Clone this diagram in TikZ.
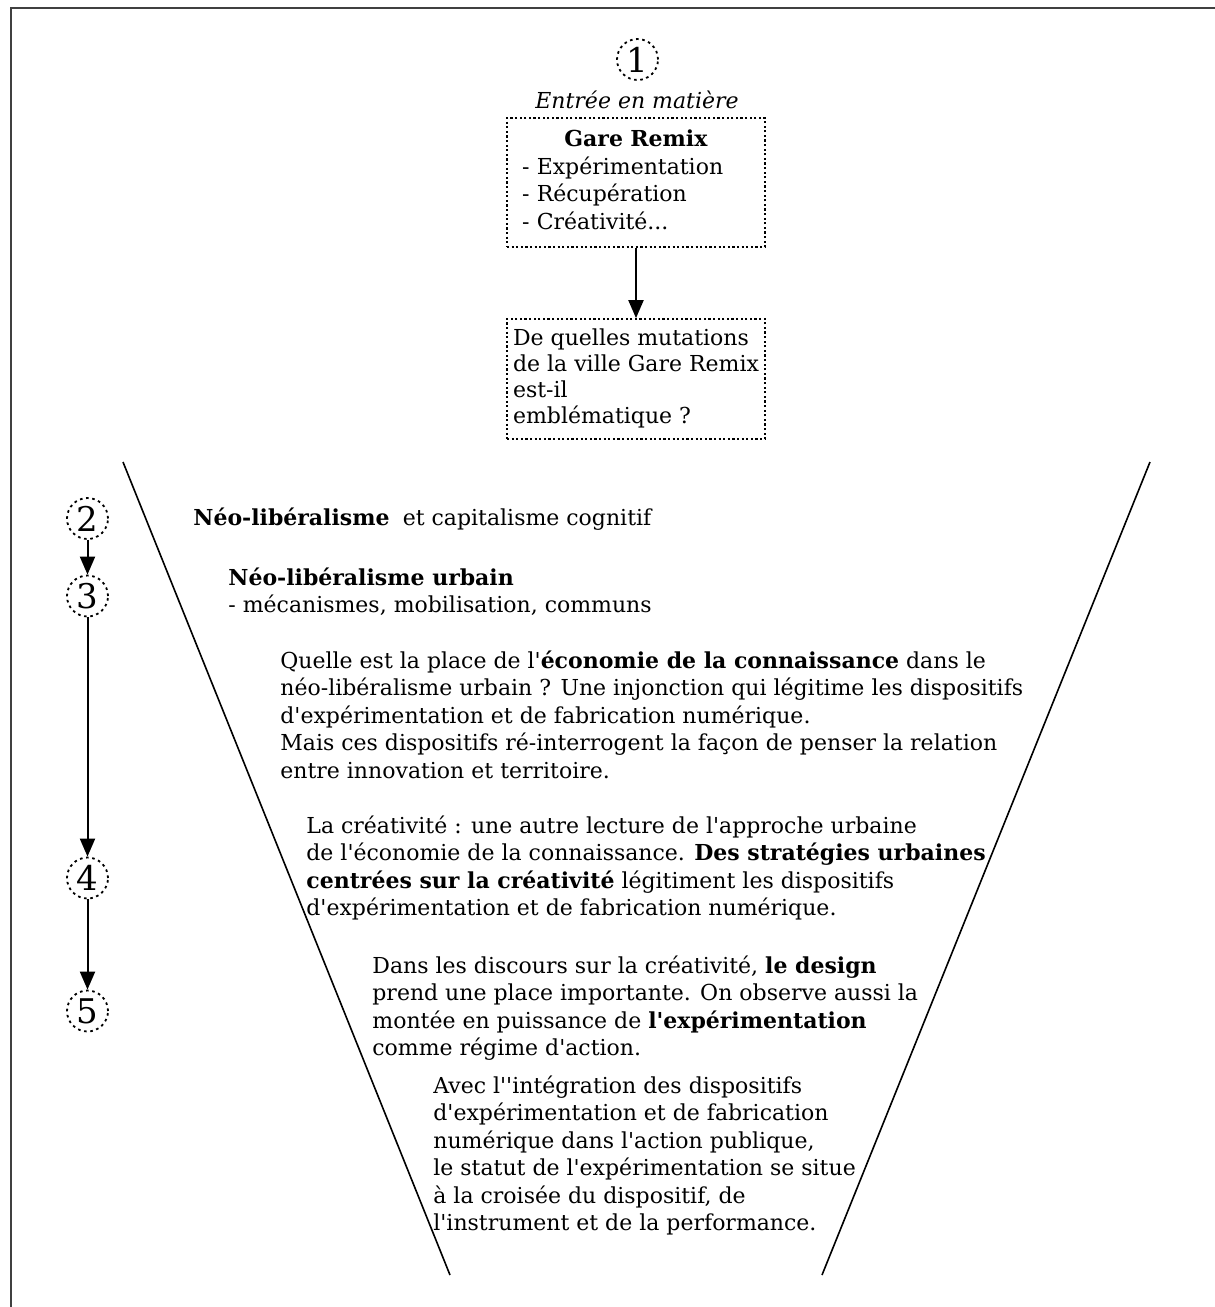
\documentclass[tikz,border=0pt]{standalone}
\usepackage{fontspec}
\setmainfont{DejaVu Serif}
\usetikzlibrary{arrows.meta}
\newcommand\ap{\textquotesingle}
\newcommand\txtfont{\fontsize{11pt}{13.75pt}\selectfont}
\newcommand\boxfont{\fontsize{11pt}{13pt}\selectfont}
\newcommand\numfont{\fontsize{17pt}{20pt}\selectfont}
\begin{document}
\begin{tikzpicture}[x=0.5pt,y=-0.5pt,
  txt/.style={font=\txtfont, align=left, inner sep=0pt, anchor=north west},
  dotbox/.style={draw, line width=0.85pt, dash pattern=on 1.1pt off 1.2pt},
  num/.style={circle, draw, line width=0.9pt, dash pattern=on 1.3pt off 1.8pt,
    minimum size=20.5pt, inner sep=0pt, font=\numfont},
  arr/.style={line width=1pt, -{Triangle[length=9pt,width=7.5pt]}},
  funnel/.style={line width=0.8pt}]
\useasboundingbox (0,0) rectangle (1215,1307);
% frame
\draw[line width=1.2pt, black!75] (11,1307) -- (11,8) -- (1215,8);

% top part
\node[num] (c1) at (637.5,59.5) {1};
\node[font=\itshape\txtfont, inner sep=0pt, anchor=base] (entree) at (637,108) {Entrée en matière};
\node[dotbox, minimum width=129pt, minimum height=64.5pt, inner xsep=7.5pt, inner ysep=0pt,
      text width=114pt, align=left, font=\txtfont] (b1) at (636,182.5)
  {\makebox[114pt]{\strut\textbf{Gare Remix}}\\- Expérimentation\\- Récupération\\- Créativité...\strut};
\node[dotbox, minimum width=129pt, minimum height=60pt, inner sep=0pt, align=left, font=\boxfont]
  (b2) at (636,379)
  {\strut De quelles mutations\\de la ville Gare Remix\\est-il\\emblématique ?\strut};
\draw[arr] (b1.south) -- (b2.north);

% funnel
\coordinate (fl1) at (123,462);
\coordinate (fl2) at (450,1275);
\coordinate (fr1) at (1150,462);
\coordinate (fr2) at (822,1275);
\draw[funnel] (fl1) -- (fl2);
\draw[funnel] (fr1) -- (fr2);

% left steps
\node[num] (c2) at (87.5,518.5) {2};
\node[num] (c3) at (87.5,596) {3};
\node[num] (c4) at (87.5,878) {4};
\node[num] (c5) at (87.5,1011) {5};
\draw[arr] (c2.south) -- (c3.north);
\draw[arr] (c3.south) -- (c4.north);
\draw[arr] (c4.south) -- (c5.north);

% texts
\node[txt, anchor=base west] (t1) at (193,525)
  {\textbf{Néo-libéralisme}\hspace{0.6em}et capitalisme cognitif};
\node[txt] (t2) at (228,565.75)
  {\strut\textbf{Néo-libéralisme urbain}\\- mécanismes, mobilisation, communs};
\node[txt] (t3) at (280,648.75)
  {\strut Quelle est la place de l\ap\textbf{économie de la connaissance} dans le\\
   néo-libéralisme urbain ? Une injonction qui légitime les dispositifs\\
   d\ap expérimentation et de fabrication numérique.\\
   Mais ces dispositifs ré-interrogent la façon de penser la relation\\
   entre innovation et territoire.};
\node[txt] (t4) at (306,813.75)
  {\strut La créativité : une autre lecture de l\ap approche urbaine\\
   de l\ap économie de la connaissance. \textbf{Des stratégies urbaines}\\
   \textbf{centrées sur la créativité} légitiment les dispositifs\\
   d\ap expérimentation et de fabrication numérique.};
\node[txt] (t5) at (372,953.75)
  {\strut Dans les discours sur la créativité, \textbf{le design}\\
   prend une place importante. On observe aussi la\\
   montée en puissance de \textbf{l\ap expérimentation}\\
   comme régime d\ap action.};
\node[txt] (t6) at (433,1073.75)
  {\strut Avec l\ap\ap intégration des dispositifs\\
   d\ap expérimentation et de fabrication\\
   numérique dans l\ap action publique,\\
   le statut de l\ap expérimentation se situe\\
   à la croisée du dispositif, de\\
   l\ap instrument et de la performance.};
\end{tikzpicture}
\end{document}
